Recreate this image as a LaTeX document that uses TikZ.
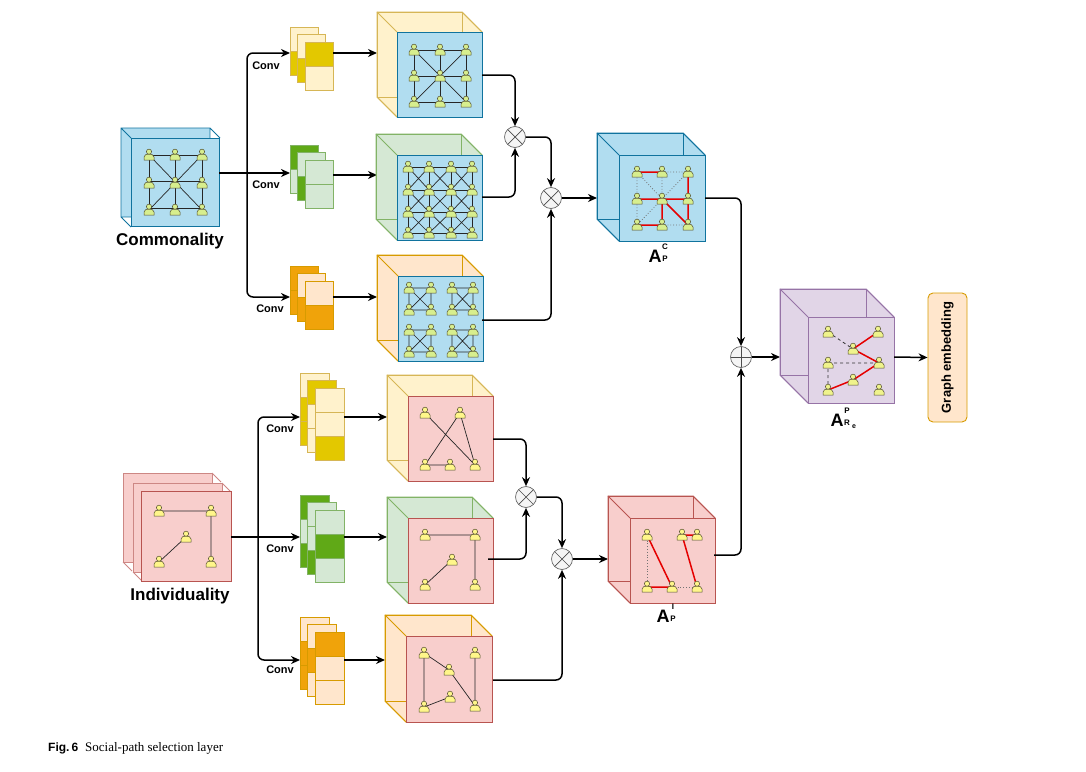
\documentclass[tikz,border=0pt]{standalone}
\usepackage{fontspec}
\setmainfont{Liberation Serif}
\setsansfont{Liberation Sans}
\usetikzlibrary{arrows.meta,calc}
\definecolor{yl}{HTML}{FFF2CC}\definecolor{yd}{HTML}{E3C800}\definecolor{yb}{HTML}{D6B656}
\definecolor{gl}{HTML}{D5E8D4}\definecolor{gd}{HTML}{60A917}\definecolor{gb}{HTML}{82B366}
\definecolor{ol}{HTML}{FFE6CC}\definecolor{od}{HTML}{F0A30A}\definecolor{ob}{HTML}{D79B00}
\definecolor{bl}{HTML}{B1DDF0}\definecolor{bb}{HTML}{10739E}
\definecolor{rl}{HTML}{F8CECC}\definecolor{rb}{HTML}{B85450}
\definecolor{pl}{HTML}{E1D5E7}\definecolor{pb}{HTML}{9673A6}
\definecolor{pg}{HTML}{D7EE8E}\definecolor{py}{HTML}{FFF68A}
\newcommand\pers[3]{\begin{scope}[shift={(#1,#2)}]
 \filldraw[fill=#3,draw=black!55!olive,line width=0.5] (-5,5) -- (-5,2) to[out=90,in=180] (0,-1) to[out=0,in=90] (5,2) -- (5,5) -- cycle;
 \filldraw[fill=#3,draw=black!55!olive,line width=0.5] (0,-3.3) circle[radius=2.6];
\end{scope}}
% cube: bx,by,size,depth,fill,draw,frontfill,frontdraw
\newcommand\bcube[8]{%
 \filldraw[fill=#5,draw=#6,line width=0.9] (#1,#2) -- ({#1+#3},#2) -- ({#1+#3+#4},{#2+#4}) -- ({#1+#3+#4},{#2+#3+#4}) -- ({#1+#4},{#2+#3+#4}) -- (#1,{#2+#3}) -- cycle;
 \draw[#6,line width=0.9] (#1,#2) rectangle ++(#3,#3);
 \draw[#6,line width=0.9] (#1,#2) -- ++(#4,#4) ({#1+#3},#2) -- ++(#4,#4) (#1,{#2+#3}) -- ++(#4,#4);
 \filldraw[fill=#7,draw=#8,line width=0.9] ({#1+#4},{#2+#4}) rectangle ++(#3,#3);}
% conv stack: x,y,border,w,backlist,midlist,frontlist
\newcommand\cstack[7]{%
 \foreach \c [count=\i from 0] in {#5} {\filldraw[fill=\c,draw=#3,line width=0.6] (#1,{#2+24*\i}) rectangle ++(#4,24);}
 \foreach \c [count=\i from 0] in {#6} {\filldraw[fill=\c,draw=#3,line width=0.6] ({#1+7.5},{#2+7.5+24*\i}) rectangle ++(#4,24);}
 \foreach \c [count=\i from 0] in {#7} {\filldraw[fill=\c,draw=#3,line width=0.6] ({#1+15},{#2+15+24*\i}) rectangle ++(#4,24);}}
\tikzset{
 arr/.style={-{Stealth[length=9pt,width=8pt]},line width=1.5,rounded corners=6},
 ln/.style={line width=1.5,rounded corners=6},
 op/.style={circle,minimum size=21pt,inner sep=0,fill=black!4,draw=black!60,line width=0.7},
 ox/.style={op,path picture={\draw[black!70,line width=0.7] (path picture bounding box.north west)--(path picture bounding box.south east) (path picture bounding box.north east)--(path picture bounding box.south west);}},
 opl/.style={op,path picture={\draw[black!70,line width=0.7] (path picture bounding box.north)--(path picture bounding box.south) (path picture bounding box.east)--(path picture bounding box.west);}},
 conv/.style={font=\sffamily\bfseries\fontsize{11}{11}\selectfont},
 big/.style={font=\sffamily\bfseries\fontsize{17}{17}\selectfont},
 la/.style={font=\sffamily\bfseries\fontsize{18}{18}\selectfont,inner sep=0},
 ls/.style={font=\sffamily\bfseries\fontsize{8}{8}\selectfont,inner sep=0},
 ge/.style={black!85,line width=0.7},
 red/.style={red!90!black,line width=1.5},
 dot/.style={black!55,dotted,line width=0.8},
 dsh/.style={black!80,dashed,line width=0.8}
}
\begin{document}
\begin{tikzpicture}[x=1pt,y=-1pt]
\useasboundingbox (0,0) rectangle (1086,771);
% ---------- Commonality input
\fill[bl] (121,128) rectangle ++(89,89);
\draw[bb,line width=0.9] (121,128) rectangle ++(89,89) (121,128)--++(10,10) (210,128)--++(10,10) (121,217)--++(10,10);
\filldraw[fill=bl,draw=bb,line width=0.9] (131,138) rectangle ++(88,88);
\foreach \a in {149,175,202}{\draw[ge] (\a,155)--(\a,210) (149,\a-149+155)--(202,\a-149+155);}
\draw[ge] (149,155)--(202,210) (202,155)--(149,210);
\foreach \a in {149,175,202}{\foreach \b in {155,183,210}{\pers{\a}{\b}{pg}}}
\node[big] (comm) at (170,241) {Commonality};
% branch
\coordinate (cin) at (219,173); \coordinate (cbr) at (247,173);
\coordinate (cv1) at (290,53); \coordinate (cv2) at (290,173); \coordinate (cv3) at (290,297);
\draw[ln] (cin)--(cbr);
\draw[arr] (cbr) |- (cv1); \draw[arr] (cbr) -- (cv2); \draw[arr] (cbr) |- (cv3);
\node[conv] at (266,66) {Conv}; \node[conv] at (266,185) {Conv}; \node[conv] at (270,309) {Conv};
% conv stacks top half
\cstack{290}{27}{yb}{28}{yl,yd}{yl,yd}{yd,yl}
\cstack{290}{145}{gb}{28}{gd,gl}{gl,gd}{gl,gl}
\cstack{290}{266}{ob}{28}{od,od}{ol,od}{ol,od}
\draw[arr] (333,53)--(377,53); \draw[arr] (333,175)--(377,175); \draw[arr] (333,297)--(377,297);
% big cubes top
\bcube{377}{12}{85}{20}{yl}{yb}{bl}{bb}
\bcube{376}{134}{85}{21}{gl}{gb}{bl}{bb}
\bcube{377}{255}{85}{21}{ol}{ob}{bl}{bb}
% top graph
\foreach \a in {414,440,466}{\draw[ge] (\a,50)--(\a,102) (414,\a-414+50)--(466,\a-414+50);}
\draw[ge] (414,50)--(466,102) (466,50)--(414,102);
\foreach \a in {414,440,466}{\foreach \b in {50,76,102}{\pers{\a}{\b}{pg}}}
% middle graph 4x4
\foreach \a in {408,429,451,472}{\draw[ge] (\a,167)--(\a,233);}
\foreach \b in {167,190,212,233}{\draw[ge] (408,\b)--(472,\b);}
\foreach \a/\aa in {408/429,429/451,451/472}{\foreach \b/\bb in {167/190,190/212,212/233}{\draw[ge] (\a,\b)--(\aa,\bb) (\aa,\b)--(\a,\bb);}}
\foreach \a in {408,429,451,472}{\foreach \b in {167,190,212,233}{\pers{\a}{\b}{pg}}}
% bottom graph K4s
\foreach \x/\xx in {409/431,452/473}{\foreach \y/\yy in {288/310,330/352}{
 \draw[ge] (\x,\y) rectangle (\xx,\yy) (\x,\y)--(\xx,\yy) (\xx,\y)--(\x,\yy);
 \pers{\x}{\y}{pg}\pers{\xx}{\y}{pg}\pers{\x}{\yy}{pg}\pers{\xx}{\yy}{pg}}}
% ops top
\node[ox] (m1) at (515,137) {};
\node[ox] (m2) at (551,198) {};
\coordinate (o1) at (482,75); \coordinate (o2) at (482,197); \coordinate (o3) at (482,320);
\draw[arr] (o1) -| (m1.north); \draw[arr] (o2) -| (m1.south);
\draw[arr] (m1.east) -| (m2.north); \draw[arr] (o3) -| (m2.south);
\coordinate (aci) at (597,198);
\draw[arr] (m2.east) -- (aci);
% A_P^C
\bcube{597}{133}{86}{22}{bl}{bb}{bl}{bb}
\draw[dot] (637,172)--(637,199) (637,199)--(637,225) (662,172)--(688,172) (637,172)--(662,199) (662,172)--(662,199) (662,199)--(688,172) (662,199)--(637,225) (662,225)--(688,225);
\draw[red] (637,172)--(662,172) (637,199)--(688,199) (688,172)--(688,225) (662,199)--(688,225) (662,199)--(662,225) (637,225)--(662,225);
\foreach \a in {637,662,688}{\foreach \b in {172,199,225}{\pers{\a}{\b}{pg}}}
\node[la] (lcA) at (655,256) {A};
\node[ls] (lcC) at (665,247) {C};
\node[ls] (lcP) at (665,259) {P};
% ---------- Individuality input
\foreach \o in {0,10}{\filldraw[fill=rl,draw=rb!70,line width=0.9] (123+\o,473+\o) rectangle ++(89,89);
 \draw[rb!70,line width=0.9] (212+\o,473+\o)--++(9,9) (123+\o,562+\o)--++(9,9);}
\filldraw[fill=rl,draw=rb,line width=0.9] (141,491) rectangle ++(90,90);
\draw[ge] (159,511)--(211,511)--(211,562) (186,537)--(159,562);
\pers{159}{511}{py}\pers{211}{511}{py}\pers{186}{537}{py}\pers{159}{562}{py}\pers{211}{562}{py}
\node[big] (indiv) at (180,596) {Individuality};
\coordinate (iin) at (231,537); \coordinate (ibr) at (258,537);
\coordinate (cv4) at (300,417); \coordinate (cv5) at (300,537); \coordinate (cv6) at (300,660);
\draw[ln] (iin)--(ibr);
\draw[arr] (ibr) |- (cv4); \draw[arr] (ibr) -- (cv5); \draw[arr] (ibr) |- (cv6);
\node[conv] at (280,429) {Conv}; \node[conv] at (280,549) {Conv}; \node[conv] at (280,670) {Conv};
\cstack{300}{373}{yb}{29}{yl,yd,yd}{yd,yl,yl}{yl,yl,yd}
\cstack{300}{495}{gb}{29}{gd,gl,gd}{gl,gl,gd}{gl,gd,gl}
\cstack{300}{617}{ob}{29}{ol,od,od}{ol,od,ol}{od,ol,ol}
\draw[arr] (344,417)--(387,417); \draw[arr] (344,537)--(387,537); \draw[arr] (344,660)--(385,660);
\bcube{387}{375}{85}{21}{yl}{yb}{rl}{rb}
\bcube{387}{497}{85}{21}{gl}{gb}{rl}{rb}
\bcube{385}{615}{86}{21}{ol}{ob}{rl}{rb}
\draw[ge] (425,413)--(475,465) (460,413)--(425,465) (460,413)--(475,465) (425,465)--(450,465);
\pers{425}{413}{py}\pers{460}{413}{py}\pers{425}{465}{py}\pers{450}{465}{py}\pers{475}{465}{py}
\draw[ge] (425,535)--(475,535)--(475,585) (452,560)--(425,585);
\pers{425}{535}{py}\pers{475}{535}{py}\pers{452}{560}{py}\pers{425}{585}{py}\pers{475}{585}{py}
\draw[ge] (424,653)--(449,670)--(475,706) (424,653)--(424,707)--(450,697) (475,653)--(475,706);
\pers{424}{653}{py}\pers{475}{653}{py}\pers{449}{670}{py}\pers{424}{707}{py}\pers{450}{697}{py}\pers{475}{706}{py}
\node[ox] (m3) at (526,497) {};
\node[ox] (m4) at (562,559) {};
\coordinate (o4) at (493,439); \coordinate (o5) at (488,559); \coordinate (o6) at (493,680);
\draw[arr] (o4) -| (m3.north); \draw[arr] (o5) -| (m3.south);
\draw[arr] (m3.east) -| (m4.north); \draw[arr] (o6) -| (m4.south);
\coordinate (aii) at (608,559);
\draw[arr] (m4.east) -- (aii);
% A_P^I
\bcube{608}{496}{85}{22}{rl}{rb}{rl}{rb}
\draw[dot] (647,535)--(647,587) (672,587)--(697,587);
\draw[red] (647,535)--(672,587) (647,587)--(672,587) (682,535)--(697,535) (682,535)--(697,587);
\pers{647}{535}{py}\pers{682}{535}{py}\pers{697}{535}{py}\pers{647}{587}{py}\pers{672}{587}{py}\pers{697}{587}{py}
\node[la] (liA) at (663,616) {A};
\node[ls] (liI) at (673,607) {I};
\node[ls] (liP) at (673,619) {P};
% ---------- merge
\node[opl] (pl) at (741,357) {};
\coordinate (aco) at (705,198); \coordinate (aio) at (714,555);
\draw[arr] (aco) -| (pl.north); \draw[arr] (aio) -| (pl.south);
\coordinate (pri) at (780,357);
\draw[arr] (pl.east) -- (pri);
\bcube{780}{289}{86}{28}{pl}{pb}{pl}{pb}
\draw[dsh] (828,332)--(853,349) (828,363)--(879,363) (828,363)--(828,390);
\draw[red] (878,332)--(853,349)--(879,363)--(853,380)--(828,390);
\foreach \a/\b in {828/332,878/332,853/349,828/363,879/363,853/380,828/390,879/390}{\pers{\a}{\b}{py!60!pg}}
\node[la] (lrA) at (837,420) {A};
\node[ls] (lrP) at (847,411) {P};
\node[ls] (lrR) at (847,423) {R};
\node[ls,font=\sffamily\bfseries\fontsize{7}{7}\selectfont] (lre) at (854,427) {e};
\node[draw=ob,fill=ol,rounded corners=5,line width=0.9,minimum width=39pt,minimum height=129pt,inner sep=0] (ge) at (947.5,357.5) {};
\node[rotate=90,font=\sffamily\bfseries\fontsize{13}{13}\selectfont] at (ge.center) {Graph embedding};
\coordinate (pro) at (894,357);
\draw[arr] (pro) -- (ge.west);
% caption
\node[anchor=west,inner sep=0] (cap) at (48,748) {{\sffamily\bfseries\fontsize{12}{12}\selectfont Fig.\,6}\hspace{7pt}{\fontsize{13}{13}\selectfont Social-path selection layer}};
\end{tikzpicture}
\end{document}
